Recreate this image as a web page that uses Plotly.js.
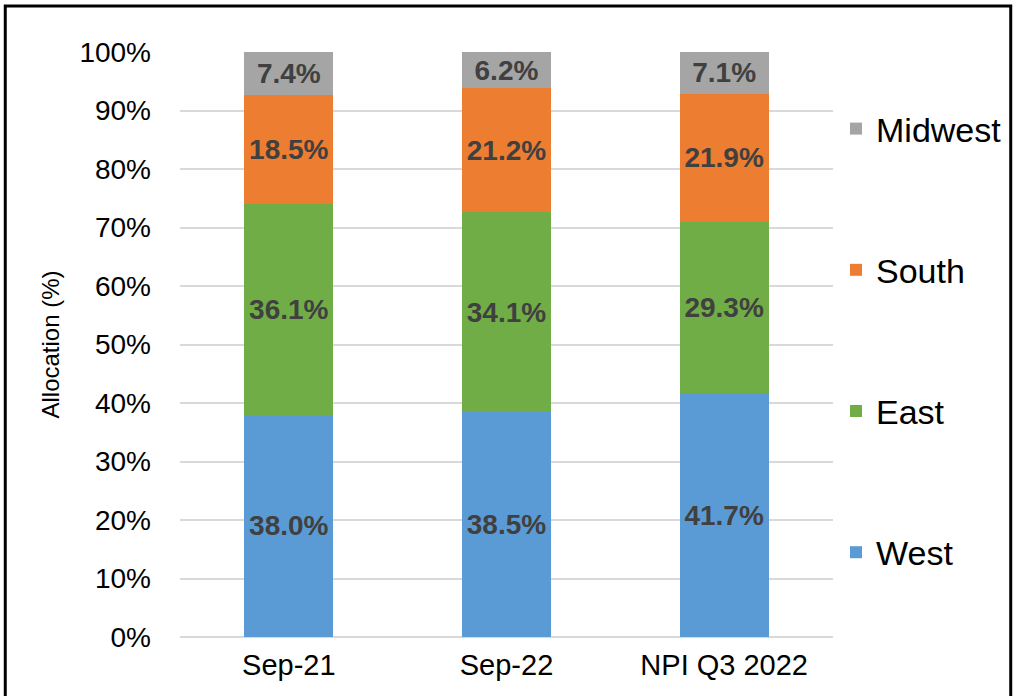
<!DOCTYPE html>
<html>
<head>
<meta charset="utf-8">
<script src="https://cdn.plot.ly/plotly-3.0.1.min.js"></script>
<style>
html,body{margin:0;padding:0;background:#fff;}
#chart{width:1018px;height:696px;}
</style>
</head>
<body>
<div id="chart"></div>
<script>
const categories = ["Sep-21", "Sep-22", "NPI Q3 2022"];
const west    = [38.0, 38.5, 41.7];
const east    = [36.1, 34.1, 29.3];
const south   = [18.5, 21.2, 21.9];
const midwest = [7.4, 6.2, 7.1];
const yTickVals = [0,10,20,30,40,50,60,70,80,90,100];
const yTickText = ["0%","10%","20%","30%","40%","50%","60%","70%","80%","90%","100%"];

const FONT = "Liberation Sans, Arial, sans-serif";
const L = 180, R = 834, T = 52, B = 637, W = 1018, H = 696;
const px2x = p => (p - L) / (R - L);
const px2y = p => (B - p) / (B - T);

function mk(name, vals, color, rank) {
  return {
    type: "bar", name: name, x: categories, y: vals,
    marker: {color: color},
    legendgroup: name,
    legendrank: rank,
    texttemplate: "%{y:.1f}%",
    textposition: "inside",
    insidetextanchor: "middle",
    constraintext: "none",
    textangle: 0,
    textfont: {family: FONT, size: 28, color: "#404040", weight: "bold"},
    hoverinfo: "skip"
  };
}

const data = [
  mk("West", west, "#5B9BD5", 4),
  mk("East", east, "#70AD47", 3),
  mk("South", south, "#ED7D31", 2),
  mk("Midwest", midwest, "#A5A5A5", 1)
];

const layout = {
  width: W, height: H,
  margin: {l: L, r: W - R, t: T, b: H - B, pad: 0},
  paper_bgcolor: "#fff", plot_bgcolor: "#fff",
  barmode: "stack",
  bargap: 0.59,
  showlegend: true,
  font: {family: FONT, color: "#000"},
  xaxis: {
    type: "category",
    tickfont: {family: FONT, size: 29, color: "#000"},
    showgrid: false, zeroline: false, showline: false,
    ticks: "", ticklabelstandoff: 8,
    fixedrange: true
  },
  yaxis: {
    range: [0, 100],
    tickvals: yTickVals, ticktext: yTickText,
    tickfont: {family: FONT, size: 28, color: "#000"},
    showgrid: true, gridcolor: "#d9d9d9", gridwidth: 2,
    zeroline: true, zerolinecolor: "#d9d9d9", zerolinewidth: 2,
    showline: false, ticks: "", ticklabelstandoff: 28,
    title: {text: "Allocation (%)", font: {family: FONT, size: 24, color: "#000"}, standoff: 12},
    fixedrange: true
  },
  legend: {
    x: px2x(836), xanchor: "left",
    y: px2y(100), yanchor: "top",
    traceorder: "grouped",
    tracegroupgap: 94,
    font: {family: FONT, size: 34, color: "#000"},
    bgcolor: "rgba(0,0,0,0)"
  },
  shapes: [{
    type: "path", xref: "paper", yref: "paper",
    path: "M" + px2x(5) + "," + px2y(720) + " L" + px2x(5) + "," + px2y(6) +
          " L" + px2x(1012) + "," + px2y(6) + " L" + px2x(1012) + "," + px2y(720),
    line: {color: "#000", width: 3}
  }]
};

Plotly.newPlot("chart", data, layout, {displayModeBar: false, staticPlot: true});
</script>
</body>
</html>
